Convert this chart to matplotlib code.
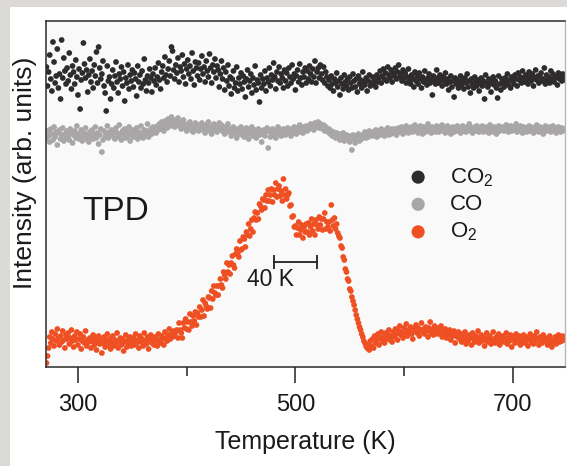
import numpy as np
import matplotlib
matplotlib.use("Agg")
import matplotlib.pyplot as plt
from matplotlib.patches import Rectangle

plt.rcParams['font.family'] = ['Liberation Sans', 'DejaVu Sans']
plt.rcParams['mathtext.fontset'] = 'custom'
plt.rcParams['mathtext.rm'] = 'Liberation Sans'
plt.rcParams['mathtext.it'] = 'Liberation Sans:italic'
plt.rcParams['mathtext.bf'] = 'Liberation Sans:bold'

# Temperature grid (K), one reading per kelvin
temperature = np.arange(271, 749)

# Intensities (arb. units, offset stacked as in the figure)
co2 = [
    300, 281, 295, 312, 288, 276, 325, 305, 284, 291, 318, 279, 293, 268, 327, 289, 309, 296, 283, 299,
    286, 314, 292, 278, 301, 295, 283, 307, 290, 272, 298, 258, 287, 294, 324, 303, 289, 297, 275, 292,
    308, 285, 296, 279, 302, 291, 315, 284, 320, 299, 288, 293, 306, 281, 274, 256, 301, 286, 290, 268,
    283, 297, 279, 291, 305, 285, 274, 293, 288, 300, 281, 295, 266, 289, 284, 302, 278, 292, 286, 297,
    280, 294, 288, 271, 301, 285, 292, 279, 296, 283, 308, 287, 276, 291, 284, 298, 289, 275, 293, 286,
    299, 282, 290, 304, 287, 278, 295, 301, 289, 310, 292, 285, 298, 306, 291, 320, 316, 297, 288, 302,
    294, 309, 285, 300, 296, 312, 290, 303, 283, 298, 307, 293, 301, 288, 314, 296, 282, 305, 299, 291,
    304, 287, 298, 311, 293, 300, 285, 306, 296, 290, 313, 299, 284, 302, 295, 308, 289, 301, 297, 280,
    293, 306, 288, 299, 277, 295, 286, 302, 281, 290, 273, 288, 296, 279, 284, 300, 276, 289, 283, 294,
    278, 291, 285, 270, 288, 297, 280, 286, 293, 274, 289, 282, 301, 277, 287, 284, 265, 292, 279, 288,
    283, 296, 276, 289, 285, 299, 281, 292, 287, 304, 290, 278, 295, 286, 300, 284, 293, 289, 279, 297,
    286, 294, 281, 299, 290, 284, 302, 288, 293, 277, 291, 297, 285, 303, 289, 282, 295, 290, 299, 284,
    296, 288, 301, 293, 285, 298, 290, 306, 284, 295, 299, 289, 302, 293, 287, 300, 284, 295, 290, 281,
    287, 279, 291, 283, 276, 288, 284, 294, 280, 286, 272, 289, 283, 278, 292, 285, 281, 288, 277, 290,
    284, 279, 293, 286, 280, 288, 275, 291, 283, 287, 279, 295, 285, 282, 289, 276, 286, 292, 281, 284,
    290, 283, 287, 280, 292, 285, 289, 296, 284, 291, 298, 288, 294, 286, 300, 292, 289, 297, 285, 294,
    291, 299, 288, 295, 302, 290, 293, 286, 297, 289, 294, 284, 290, 298, 287, 283, 292, 288, 280, 295,
    286, 291, 283, 294, 288, 279, 290, 285, 296, 287, 282, 289, 293, 284, 288, 272, 291, 286, 283, 297,
    289, 284, 292, 287, 281, 290, 286, 294, 283, 288, 277, 285, 291, 280, 286, 270, 289, 283, 287, 279,
    285, 291, 282, 287, 278, 289, 284, 293, 280, 286, 274, 288, 283, 279, 290, 285, 281, 287, 276, 284,
    289, 281, 286, 268, 292, 284, 280, 288, 283, 275, 287, 290, 282, 286, 279, 269, 291, 283, 277, 288,
    284, 280, 289, 285, 293, 282, 287, 279, 290, 286, 283, 292, 288, 281, 294, 287, 290, 284, 296, 289,
    285, 292, 288, 283, 295, 290, 286, 293, 281, 289, 297, 287, 291, 284, 290, 294, 286, 288, 299, 283,
    292, 287, 290, 284, 296, 288, 293, 285, 289, 291, 282, 294, 288, 290, 286, 293, 289, 287,
]

co = [
    229, 236, 231, 225, 238, 233, 227, 240, 230, 235, 222, 234, 237, 228, 232, 239, 226, 233, 230, 236,
    231, 227, 238, 234, 224, 232, 236, 229, 241, 233, 228, 230, 237, 226, 234, 231, 239, 228, 233, 225,
    235, 230, 237, 228, 233, 240, 229, 234, 223, 232, 238, 215, 227, 236, 230, 233, 241, 229, 235, 232,
    237, 231, 236, 228, 239, 234, 230, 242, 233, 227, 236, 232, 238, 229, 235, 231, 240, 226, 234, 237,
    230, 236, 233, 239, 228, 235, 231, 241, 234, 229, 237, 232, 236, 243, 230, 235, 238, 233, 240, 236,
    239, 234, 241, 237, 243, 238, 245, 240, 236, 246, 242, 239, 248, 244, 241, 250, 243, 246, 240, 247,
    243, 249, 241, 245, 238, 244, 247, 240, 242, 236, 243, 239, 245, 237, 241, 235, 240, 244, 238, 242,
    236, 241, 239, 244, 237, 240, 234, 242, 238, 245, 236, 240, 233, 239, 243, 237, 241, 235, 239, 244,
    238, 242, 236, 240, 233, 239, 237, 243, 235, 238, 231, 237, 240, 234, 236, 229, 238, 233, 236, 240,
    232, 237, 230, 235, 239, 233, 228, 236, 234, 240, 231, 235, 237, 229, 234, 238, 232, 236, 225, 233,
    237, 231, 235, 239, 219, 236, 230, 234, 238, 232, 236, 229, 235, 240, 233, 237, 231, 234, 238, 235,
    232, 236, 239, 234, 237, 231, 238, 235, 240, 236, 233, 239, 237, 242, 235, 238, 234, 240, 237, 241,
    236, 240, 238, 243, 239, 241, 237, 244, 240, 242, 245, 239, 243, 241, 238, 242, 236, 240, 237, 235,
    238, 233, 236, 231, 235, 232, 229, 234, 230, 233, 227, 231, 229, 234, 226, 230, 232, 228, 231, 225,
    230, 217, 232, 228, 224, 231, 229, 233, 226, 230, 228, 232, 231, 235, 229, 233, 230, 236, 232, 234,
    231, 235, 233, 237, 230, 234, 236, 232, 238, 233, 235, 231, 237, 234, 239, 232, 236, 233, 238, 235,
    234, 238, 232, 236, 239, 235, 237, 240, 233, 238, 236, 241, 237, 234, 239, 236, 240, 235, 238, 242,
    236, 239, 234, 238, 241, 236, 233, 240, 237, 235, 239, 243, 236, 238, 234, 240, 237, 239, 235, 241,
    238, 235, 240, 237, 242, 236, 239, 234, 238, 241, 236, 239, 233, 237, 240, 235, 238, 236, 241, 237,
    239, 234, 237, 241, 236, 238, 235, 240, 237, 243, 236, 239, 234, 238, 240, 236, 241, 237, 235, 239,
    237, 241, 235, 239, 236, 240, 238, 234, 242, 237, 239, 235, 240, 237, 233, 238, 241, 236, 239, 237,
    240, 236, 238, 242, 237, 235, 239, 241, 236, 238, 240, 237, 243, 235, 239, 236, 241, 238, 234, 240,
    237, 239, 235, 238, 241, 236, 240, 237, 234, 239, 236, 242, 238, 235, 240, 237, 239, 233, 238, 241,
    236, 239, 237, 240, 235, 238, 241, 236, 239, 234, 238, 240, 237, 235, 239, 236, 238, 237,
]

o2 = [
    4, 11, 19, 30, 24, 35, 28, 21, 33, 26, 38, 29, 22, 31, 25, 36, 27, 19, 32, 28,
    34, 23, 29, 37, 26, 20, 31, 27, 35, 22, 28, 33, 18, 26, 30, 24, 36, 21, 27, 25,
    29, 19, 26, 32, 22, 28, 17, 25, 31, 23, 27, 14, 24, 30, 20, 26, 33, 22, 28, 18,
    25, 31, 21, 27, 23, 34, 19, 26, 29, 22, 28, 16, 25, 32, 20, 27, 24, 30, 21, 26,
    29, 22, 33, 24, 27, 19, 31, 25, 28, 21, 34, 26, 23, 30, 18, 27, 32, 24, 28, 22,
    30, 26, 21, 33, 27, 24, 31, 28, 22, 35, 29, 26, 32, 38, 28, 33, 30, 36, 31, 35,
    37, 29, 44, 37, 34, 29, 44, 39, 48, 38, 45, 37, 53, 45, 41, 51, 46, 55, 42, 54,
    50, 60, 50, 57, 67, 51, 64, 61, 58, 70, 69, 59, 76, 68, 81, 74, 72, 81, 72, 81,
    88, 82, 79, 95, 92, 88, 104, 95, 102, 93, 104, 111, 102, 99, 113, 118, 113, 110, 126, 117,
    118, 130, 128, 120, 135, 132, 143, 131, 138, 147, 135, 149, 155, 147, 154, 148, 163, 161, 157, 168,
    167, 159, 172, 166, 177, 166, 172, 178, 165, 177, 172, 184, 170, 178, 181, 171, 176, 166, 188, 172,
    178, 168, 172, 174, 161, 162, 150, 151, 140, 141, 132, 139, 145, 132, 137, 142, 129, 140, 135, 143,
    135, 144, 132, 140, 148, 136, 143, 132, 147, 142, 138, 150, 142, 148, 137, 148, 154, 138, 145, 140,
    145, 136, 162, 147, 141, 149, 138, 143, 134, 131, 129, 121, 119, 110, 107, 98, 95, 88, 86, 78,
    76, 70, 66, 62, 57, 52, 48, 44, 40, 37, 33, 30, 26, 24, 21, 19, 23, 17, 26, 21,
    28, 19, 31, 24, 27, 33, 22, 29, 35, 26, 30, 24, 34, 28, 32, 37, 27, 31, 25, 35,
    30, 38, 33, 27, 36, 41, 32, 35, 29, 39, 34, 43, 31, 37, 35, 40, 33, 28, 38, 36,
    42, 34, 39, 31, 37, 44, 35, 38, 33, 40, 36, 30, 39, 45, 34, 37, 32, 41, 36, 38,
    33, 39, 35, 41, 30, 36, 33, 38, 29, 35, 32, 37, 27, 34, 31, 36, 24, 33, 30, 35,
    28, 33, 25, 31, 27, 35, 23, 30, 26, 32, 29, 22, 34, 28, 25, 31, 27, 36, 24, 29,
    32, 26, 30, 21, 28, 34, 25, 29, 31, 23, 27, 35, 28, 24, 30, 26, 33, 22, 29, 27,
    31, 25, 28, 34, 23, 29, 26, 32, 20, 28, 30, 24, 33, 27, 25, 31, 22, 29, 26, 32,
    24, 30, 27, 21, 29, 33, 25, 28, 23, 31, 26, 35, 28, 22, 30, 27, 24, 32, 26, 29,
    28, 22, 26, 31, 24, 20, 27, 25, 30, 23, 28, 32, 25, 29, 26, 31, 27, 30,
]

series_labels = ['CO$_2$', 'CO', 'O$_2$']
series_colors = ['#2d2b2b', '#a8a6a6', '#ef5023']
xticks_major = [300, 500, 700]
xticks_minor = [400, 600]
scalebar_T = [480, 520]
scalebar_label = '40 K'

W, H = 567, 466
fig = plt.figure(figsize=(W / 100, H / 100), dpi=100, facecolor='#dcdad6')
fig.patches.append(Rectangle((10 / W, 0), 1, (H - 7) / H, transform=fig.transFigure,
                             facecolor='white', edgecolor='none', zorder=-10))

ax = fig.add_axes([46 / W, 99 / H, 519 / W, 346 / H])
ax.set_zorder(5)
ax.set_facecolor('#f9f9f9')

handles = []
for vals, col, lab in zip([o2, co, co2], series_colors[::-1], series_labels[::-1]):
    h = ax.scatter(temperature, vals, s=17, color=col, edgecolors='none', label=lab)
    handles.append(h)
handles = handles[::-1]

ax.set_xlim(270.6, 748)
ax.set_ylim(0, 346)

ax.set_yticks([])
ax.set_xticks(xticks_major)
ax.set_xticks(xticks_minor, minor=True)
ax.tick_params(axis='x', which='major', length=11.5, width=1.1, direction='out',
               labelsize=17, pad=8, color='#222222', labelcolor='#1a1a1a')
ax.tick_params(axis='x', which='minor', length=6.5, width=1.1, direction='out',
               color='#222222')

for side in ['left', 'top', 'bottom']:
    ax.spines[side].set_color('#2a2a2a')
    ax.spines[side].set_linewidth(1.1)
ax.spines['right'].set_color('#b8b8b8')
ax.spines['right'].set_linewidth(1.0)

ax.set_xlabel('Temperature (K)', fontsize=18, labelpad=10, color='#1a1a1a')
ax.set_ylabel('Intensity (arb. units)', fontsize=19, color='#1a1a1a')
ax.yaxis.set_label_coords(-0.018, 0.561)

ax.text(303.7, 147, 'TPD', fontsize=24, ha='left', va='baseline', color='#1a1a1a')

ax.plot(scalebar_T, [105, 105], color='#222222', lw=1.3, marker='|', ms=9.5, mew=1.3)
ax.text(476.7, 88, scalebar_label, fontsize=16.5, ha='center', va='center', color='#1a1a1a')

leg = ax.legend(handles=handles, labels=series_labels, loc='upper left',
                bbox_to_anchor=(0.6956, 0.581), frameon=False, fontsize=16,
                markerscale=2.3, handlelength=1.0, handletextpad=0.95,
                labelspacing=0.25, borderpad=0, borderaxespad=0, scatterpoints=1)
for t in leg.get_texts():
    t.set_color('#1a1a1a')

fig.savefig('out.png', dpi=100, facecolor=fig.get_facecolor())
